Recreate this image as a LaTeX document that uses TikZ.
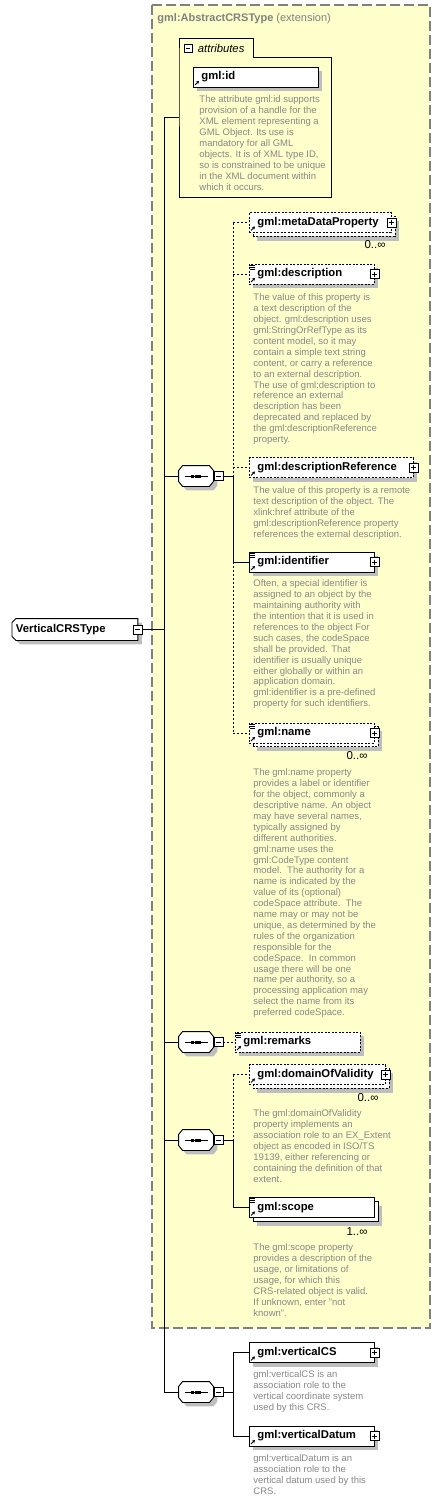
\documentclass[tikz,border=0pt]{standalone}
\usepackage{fontspec}
\setmainfont{Liberation Sans}
\usetikzlibrary{arrows.meta,shadows}
\definecolor{schemayellow}{RGB}{255,255,204}
\definecolor{descgray}{RGB}{135,135,135}
\definecolor{shadowgray}{RGB}{190,190,190}
\definecolor{framegray}{RGB}{128,128,128}
\newcommand{\titlefont}{\fontsize{11.3}{13}\selectfont\bfseries}
\newcommand{\descfont}{\fontsize{9.5}{10.9}\selectfont}
\newcommand{\plusbox}[1]{\node[pbox] (#1plus) at ([xshift=-0.5pt]#1.east) {};}
\newcommand{\refmark}[1]{\draw[-{Stealth[length=3pt,width=3.4pt]}, line width=0.9pt] ([shift={(2pt,2.5pt)}]#1.south west) -- ++(4,-4);}
\newcommand{\docmark}[1]{\foreach \k in {1.5,3.5,5.5} \draw[line width=0.7pt] ([shift={(0.5pt,-\k pt)}]#1.north west) -- ++(5,0);}
% outline of a sequence compositor and of the root type
\newcommand{\seqoutline}[1]{([xshift=4pt]#1.north west) -- ([xshift=-4pt]#1.north east)
  -- ([yshift=-5pt]#1.north east) -- ([yshift=5pt]#1.south east) -- ([xshift=-4pt]#1.south east)
  -- ([xshift=4pt]#1.south west) -- ([yshift=5pt]#1.south west) -- ([yshift=-5pt]#1.north west) -- cycle}
\newcommand{\rootoutline}[1]{([xshift=4pt]#1.north west) -- (#1.north east) -- (#1.south east)
  -- ([xshift=4pt]#1.south west) -- ([yshift=4pt]#1.south west) -- ([yshift=-4pt]#1.north west) -- cycle}
\newcommand{\seqshape}[1]{\fill[shadowgray, transform canvas={shift={(4pt,-4pt)}}] \seqoutline{#1};
  \filldraw[fill=white] \seqoutline{#1};
  \draw ([xshift=-11pt]#1.center) -- ([xshift=12pt]#1.center);
  \foreach \dx in {-3.5,0,3.5} \fill ([xshift=\dx pt]#1.center) +(-1.5,-1.5) rectangle +(1.5,1.5);}

\begin{document}
\begin{tikzpicture}[x=1pt,y=-1pt,line width=0.9pt,
  elem/.style={draw, fill=white, anchor=west, minimum height=20pt, inner xsep=8pt,
    inner ysep=0pt, align=left, font=\titlefont},
  opt/.style={dash pattern=on 2pt off 1.5pt},
  single/.style={general shadow={fill=shadowgray, shadow xshift=4pt, shadow yshift=-4pt}},
  multi/.style={general shadow={fill=shadowgray, shadow xshift=8pt, shadow yshift=-8pt},
    copy shadow={draw=black, fill=white, shadow xshift=3.5pt, shadow yshift=-3.5pt}},
  desc/.style={anchor=north west, inner sep=0pt, align=left, font=\descfont, text=descgray},
  occ/.style={anchor=east, inner sep=0pt, font=\fontsize{11.5}{13}\selectfont},
  seqbox/.style={minimum width=34pt, minimum height=20pt, inner sep=0pt},
  pbox/.style={draw, fill=white, minimum size=9pt, inner sep=0pt, line width=0.7pt,
    path picture={\draw ([xshift=2pt]path picture bounding box.west) -- ([xshift=-2pt]path picture bounding box.east);
      \draw ([yshift=-2pt]path picture bounding box.north) -- ([yshift=2pt]path picture bounding box.south);}},
  mbox/.style={draw, fill=white, minimum size=9pt, inner sep=0pt, line width=0.7pt,
    path picture={\draw ([xshift=2pt]path picture bounding box.west) -- ([xshift=-2pt]path picture bounding box.east);}},
  optlink/.style={dash pattern=on 2pt off 2pt}]
  \useasboundingbox (0,0) rectangle (441,1501);

  % extension frame
  \filldraw[fill=schemayellow, draw=framegray, dash pattern=on 10pt off 4pt, line width=1.2pt]
    (152,5) rectangle (430,1328);
  \node[anchor=west, inner sep=0pt, text=framegray, font=\fontsize{11}{13}\selectfont] (ext) at (157,19)
    {\textbf{gml:AbstractCRSType} (extension)};

  % attributes
  \node[anchor=north west, minimum width=152pt, minimum height=140pt, inner sep=0pt] (attrs) at (179,57) {};
  \draw (attrs.south west) -- (attrs.north west) -- ++(0,-19) -| ([xshift=74pt]attrs.north west)
    -- (attrs.north east) -- (attrs.south east) -- cycle;
  \node[mbox, minimum size=8pt] (attrminus) at (188,48.5) {};
  \node[anchor=west, inner sep=0pt, font=\fontsize{11.3}{13}\selectfont\itshape] (attrlabel) at (197.5,48) {attributes};
  \node[elem, single, text width=109pt] (gmlid) at (193,77) {gml:id};
  \refmark{gmlid}
  \node[desc] (gmlidtxt) at (199,95.5) {The attribute gml:id supports\\provision of a handle for the\\XML element representing a\\GML Object. Its use is\\mandatory for all GML\\objects. It is of XML type ID,\\so is constrained to be unique\\in the XML document within\\which it occurs.};

  % root
  \node[anchor=west, minimum width=125pt, minimum height=21pt, inner xsep=4pt, inner ysep=0pt,
    text width=117pt, align=left] (root) at (12,629.5) {};
  \fill[shadowgray, transform canvas={shift={(4pt,-4pt)}}] \rootoutline{root};
  \filldraw[fill=white] \rootoutline{root};
  \node[anchor=west, inner sep=0pt, font=\titlefont] (rootlabel) at ([xshift=3.5pt]root.west) {VerticalCRSType};
  \node[mbox] (rootminus) at (root.east) {};

  % trunk
  \coordinate (trunk) at (164,117);
  \coordinate (trunkend) at (164,1392);
  \draw (trunk) -- (trunkend);
  \draw (trunk) -- (trunk -| attrs.west);
  \draw (rootminus.east) -- (rootminus.east -| trunk);

  % first sequence
  \node[seqbox] (seqa) at (196,476) {};
  \seqshape{seqa}
  \node[mbox] (seqaminus) at (218.5,476) {};
  \draw (seqa.west -| trunk) -- (seqa.west);
  \coordinate (brancha) at (233,476);
  \draw (seqaminus.east) -- (brancha);

  \node[elem, opt, multi, text width=126pt] (meta) at (249,222.5) {gml:metaDataProperty};
  \refmark{meta} \plusbox{meta}
  \node[occ] (metaocc) at (386,245) {0..∞};

  \node[elem, opt, single, text width=109pt] (descr) at (249,274) {gml:description};
  \docmark{descr} \refmark{descr} \plusbox{descr}
  \node[desc] (descrtxt) at (253,293.5) {The value of this property is\\a text description of the\\object. gml:description uses\\gml:StringOrRefType as its\\content model, so it may\\contain a simple text string\\content, or carry a reference\\to an external description.\\The use of gml:description to\\reference an external\\description has been\\deprecated and replaced by\\the gml:descriptionReference\\property.};

  \node[elem, opt, single, text width=148pt] (descref) at (249,467.5) {gml:descriptionReference};
  \refmark{descref} \plusbox{descref}
  \node[desc] (descreftxt) at (253,486.5) {The value of this property is a remote\\text description of the object. The\\xlink:href attribute of the\\gml:descriptionReference property\\references the external description.};

  \node[elem, single, text width=109pt] (ident) at (249,562) {gml:identifier};
  \docmark{ident} \refmark{ident} \plusbox{ident}
  \node[desc] (identtxt) at (253,579.5) {Often, a special identifier is\\assigned to an object by the\\maintaining authority with\\the intention that it is used in\\references to the object For\\such cases, the codeSpace\\shall be provided. That\\identifier is usually unique\\either globally or within an\\application domain.\\gml:identifier is a pre-defined\\property for such identifiers.};

  \node[elem, opt, multi, text width=109pt] (gname) at (249,733) {gml:name};
  \docmark{gname} \refmark{gname} \plusbox{gname}
  \node[occ] (gnameocc) at (368,756) {0..∞};
  \node[desc] (gnametxt) at (253,768.5) {The gml:name property\\provides a label or identifier\\for the object, commonly a\\descriptive name. An object\\may have several names,\\typically assigned by\\different authorities.\\gml:name uses the\\gml:CodeType content\\model.\ \ The authority for a\\name is indicated by the\\value of its (optional)\\codeSpace attribute.\ \ The\\name may or may not be\\unique, as determined by the\\rules of the organization\\responsible for the\\codeSpace.\ \ In common\\usage there will be one\\name per authority, so a\\processing application may\\select the name from its\\preferred codeSpace.};

  \draw[optlink] (brancha |- meta.west) -- (brancha);
  \draw (brancha) -- (brancha |- ident.west);
  \draw[optlink] (brancha |- ident.west) -- (brancha |- gname.west);
  \draw[optlink] (brancha |- meta.west) -- (meta.west);
  \draw[optlink] (brancha |- descr.west) -- (descr.west);
  \draw[optlink] (brancha |- descref.west) -- (descref.west);
  \draw (brancha |- ident.west) -- (ident.west);
  \draw[optlink] (brancha |- gname.west) -- (gname.west);

  % second sequence
  \node[seqbox] (seqb) at (196,1042) {};
  \seqshape{seqb}
  \node[mbox] (seqbminus) at (218.5,1042) {};
  \draw (seqb.west -| trunk) -- (seqb.west);
  \node[elem, opt, single, text width=109pt] (remarks) at (235,1042) {gml:remarks};
  \docmark{remarks} \refmark{remarks}
  \draw[optlink] (seqbminus.east) -- (remarks.west);

  % third sequence
  \node[seqbox] (seqc) at (196,1140) {};
  \seqshape{seqc}
  \node[mbox] (seqcminus) at (218.5,1140) {};
  \draw (seqc.west -| trunk) -- (seqc.west);
  \coordinate (branchc) at (233,1140);
  \draw (seqcminus.east) -- (branchc);

  \node[elem, opt, multi, text width=120pt] (domain) at (249,1074.5) {gml:domainOfValidity};
  \refmark{domain} \plusbox{domain}
  \node[occ] (domainocc) at (379,1098) {0..∞};
  \node[desc] (domaintxt) at (253,1109.5) {The gml:domainOfValidity\\property implements an\\association role to an EX\_Extent\\object as encoded in ISO/TS\\19139, either referencing or\\containing the definition of that\\extent.};

  \node[elem, multi, text width=109pt] (scope) at (249,1207.5) {gml:scope};
  \docmark{scope} \refmark{scope}
  \node[occ] (scopeocc) at (368,1232) {1..∞};
  \node[desc] (scopetxt) at (253,1243.5) {The gml:scope property\\provides a description of the\\usage, or limitations of\\usage, for which this\\CRS-related object is valid.\\If unknown, enter "not\\known".};

  \draw[optlink] (branchc |- domain.west) -- (branchc);
  \draw (branchc) -- (branchc |- scope.west);
  \draw[optlink] (branchc |- domain.west) -- (domain.west);
  \draw (branchc |- scope.west) -- (scope.west);

  % fourth sequence
  \node[seqbox] (seqd) at (196,1392) {};
  \seqshape{seqd}
  \node[mbox] (seqdminus) at (218.5,1392) {};
  \draw (trunkend) -- (seqd.west);
  \coordinate (branchd) at (233,1392);
  \draw (seqdminus.east) -- (branchd);

  \node[elem, single, text width=109pt] (vcs) at (249,1352.5) {gml:verticalCS};
  \refmark{vcs} \plusbox{vcs}
  \node[desc] (vcstxt) at (253,1370.5) {gml:verticalCS is an\\association role to the\\vertical coordinate system\\used by this CRS.};

  \node[elem, single, text width=109pt] (vdatum) at (249,1436) {gml:verticalDatum};
  \refmark{vdatum} \plusbox{vdatum}
  \node[desc] (vdatumtxt) at (253,1454.5) {gml:verticalDatum is an\\association role to the\\vertical datum used by this\\CRS.};

  \draw (branchd |- vcs.west) -- (branchd |- vdatum.west);
  \draw (branchd |- vcs.west) -- (vcs.west);
  \draw (branchd |- vdatum.west) -- (vdatum.west);
\end{tikzpicture}
\end{document}
